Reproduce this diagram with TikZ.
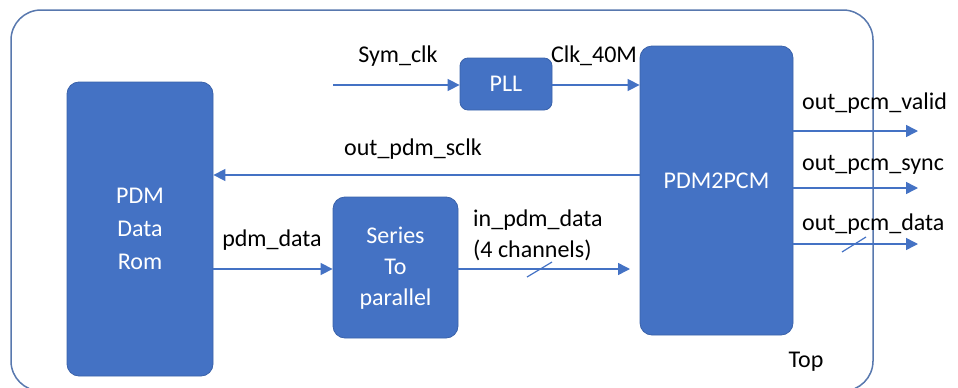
\documentclass[tikz,border=0pt]{standalone}
\usepackage{fontspec}
\setmainfont{Carlito}
\usetikzlibrary{arrows.meta}
\definecolor{boxblue}{HTML}{4472C4}
\definecolor{boxedge}{HTML}{3A62AA}
\definecolor{framec}{HTML}{5878AE}
\tikzset{
  blk/.style={fill=boxblue, draw=boxedge, line width=0.8pt, rounded corners=12pt, text=white, font=\fontsize{24}{32}\selectfont, align=center, inner sep=0pt},
  sig/.style={draw=boxblue, line width=1.5pt, -{Triangle[length=12pt,width=12pt]}},
  lbl/.style={font=\fontsize{24}{30}\selectfont, text=black, inner sep=0pt},
  slash/.style={draw=boxblue, line width=1.2pt}
}
\begin{document}
\begin{tikzpicture}[x=1pt,y=-1pt]
\useasboundingbox (0,0) rectangle (958,388);
\clip (0,0) rectangle (958,388);
% outer frame
\draw[framec, line width=1.5pt, rounded corners=30pt] (11,10) rectangle (873,391);
% blocks
\node[blk, minimum width=146pt, minimum height=294pt] (rom) at (140,229) {};
\node[blk, rounded corners=8pt, minimum width=92pt, minimum height=52pt] (pll) at (506,84) {PLL};
\node[blk, minimum width=153pt, minimum height=289pt] (pdm) at (716.5,190.5) {};
\node[blk, minimum width=125pt, minimum height=141pt] (s2p) at (395.5,267.5) {};
% block texts
\node[text=white, font=\fontsize{24}{33}\selectfont, align=center] (romtxt) at (140,229) {PDM\\Data\\Rom};
\node[text=white, font=\fontsize{24}{31}\selectfont, align=center] (s2ptxt) at (395.5,268) {Series\\To\\parallel};
\node[text=white, font=\fontsize{24}{30}\selectfont] (pdmtxt) at (716.5,181) {PDM2PCM};
% coordinates
\coordinate (symin) at (333,85);
\coordinate (sclk) at (640,175);
\coordinate (pdmd) at (213,269);
\coordinate (inpd) at (630,269);
\coordinate (o1s) at (793,131);
\coordinate (o1e) at (918,131);
\coordinate (o2s) at (793,188);
\coordinate (o2e) at (918,188);
\coordinate (o3s) at (793,244);
\coordinate (o3e) at (918,244);
% connectors
\draw[sig] (symin) -- (pll.west |- symin);
\draw[sig] (pll.east |- symin) -- (pdm.west |- symin);
\draw[sig] (sclk) -- (rom.east |- sclk);
\draw[sig] (pdmd) -- (s2p.west |- pdmd);
\draw[sig] (s2p.east |- inpd) -- (inpd);
\draw[sig] (o1s) -- (o1e);
\draw[sig] (o2s) -- (o2e);
\draw[sig] (o3s) -- (o3e);
% bus slashes
\coordinate (sl1a) at (527,277);
\coordinate (sl1b) at (552,262);
\coordinate (sl2a) at (842,252);
\coordinate (sl2b) at (866,237);
\draw[slash] (sl1a) -- (sl1b);
\draw[slash] (sl2a) -- (sl2b);
% labels
\node[lbl] (lsym) at (398,56) {Sym\_clk};
\node[lbl] (lclk) at (594,56) {Clk\_40M};
\node[lbl] (lsclk) at (413,149) {out\_pdm\_sclk};
\node[lbl] (lpdmd) at (272,240) {pdm\_data};
\node[lbl, anchor=west] (lin1) at (473,220) {in\_pdm\_data};
\node[lbl, anchor=west] (lin2) at (473,250) {(4 channels)};
\node[lbl, anchor=west] (lv) at (802,103) {out\_pcm\_valid};
\node[lbl, anchor=west] (ls) at (802,165) {out\_pcm\_sync};
\node[lbl, anchor=west] (ld) at (802,224) {out\_pcm\_data};
\node[lbl] (ltop) at (806,362) {Top};
\end{tikzpicture}
\end{document}
